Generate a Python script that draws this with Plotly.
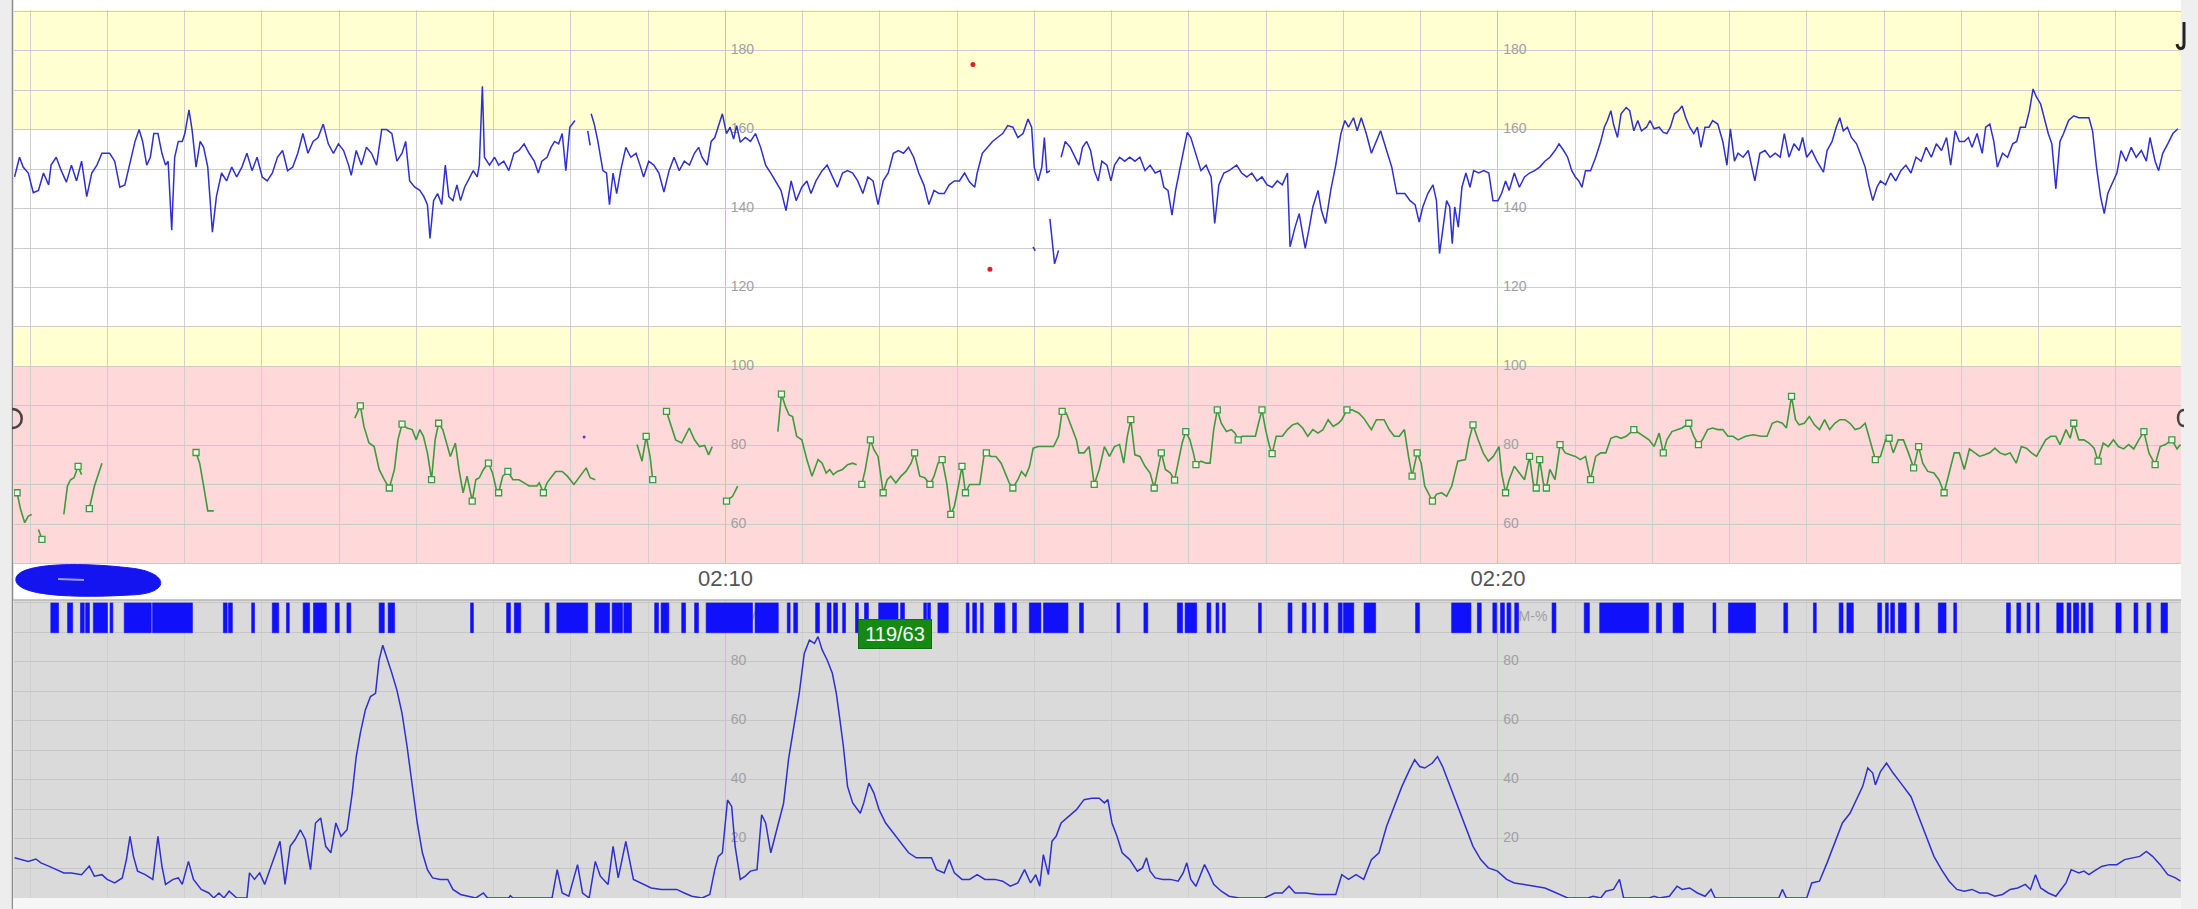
import plotly.graph_objects as go

# ---------------- DATA (time in seconds after 02:00:00) ----------------
# Fetal heart rate (bpm); None = signal loss
fhr_t = [47.8, 51.7, 54.5, 58.5, 62.4, 66.4, 70.3, 74.3, 76.2, 80.2, 84.1, 88.1, 92.0, 96.0, 99.9, 103.9,
         107.8, 111.8, 115.7, 121.7, 125.6, 129.6, 133.5, 137.5, 141.4, 144.6, 147.3, 150.5, 153.3, 156.0,
         159.2, 162.3, 165.1, 167.1, 169.9, 172.2, 175.0, 178.1, 180.1, 183.3, 185.7, 188.8, 192.0, 194.7,
         197.9, 201.5, 204.6, 208.6, 212.5, 216.5, 220.4, 224.4, 228.3, 232.3, 236.2, 240.2, 244.1, 248.1,
         252.0, 256.0, 259.9, 263.9, 267.8, 271.8, 275.7, 279.7, 283.6, 287.6, 291.5, 295.5, 299.4, 303.4,
         307.3, 309.3, 313.2, 317.2, 321.1, 325.1, 329.0, 333.0, 336.9, 340.9, 344.8, 348.8, 351.6, 354.7,
         358.7, 362.6, 365.8, 368.5, 370.5, 373.3, 376.4, 379.6, 382.4, 385.1, 388.3, 391.4, 394.2, 397.4,
         400.1, 404.1, 407.2, 408.8, 411.2, 412.8, 416.7, 420.7, 423.8, 427.8, 431.7, 435.7, 439.6, 443.6,
         447.5, 451.5, 454.6, 457.4, 461.4, 464.5, 467.3, 470.4, 473.2, 476.0, 479.1, 483.1, None,
         493.0, 494.9, None,
         495.7, 498.1, 500.9, 504.8, 507.6, 509.9, 512.7, 515.5, 518.6, 522.6, 526.5, 530.5, 533.6, 536.4,
         540.4, 544.3, 548.3, 552.2, 556.2, 560.1, 564.1, 568.0, 572.0, 575.9, 579.1, 581.8, 585.8, 588.9,
         591.7, 597.6, 600.8, 603.6, 606.3, 608.7, 611.5, 615.4, 619.4, 623.3, 627.3, 631.2, 635.2, 639.1,
         643.1, 647.0, 651.0, 654.9, 659.3, 663.2, 666.4, 670.3, 675.1, 679.0, 683.0, 686.9, 690.9, 694.8,
         698.8, 702.7, 706.7, 710.6, 714.6, 718.5, 722.5, 726.4, 730.4, 734.3, 738.3, 742.2, 746.2, 750.1,
         754.1, 758.0, 762.0, 765.9, 769.9, 773.8, 777.8, 781.7, 785.7, 789.6, 793.6, 795.5, 799.5, 803.4,
         807.4, 811.3, 815.3, 819.2, 823.2, 827.1, 831.1, 835.0, 837.8, 839.8, 842.9, 845.7, 847.7, 849.6,
         852.0, None,
         860.7, 863.9, 867.8, 871.8, 874.5, 877.3, 880.5, 883.6, 886.4, 889.5, 892.3, 896.3, 899.4, 902.2,
         906.1, 910.1, 914.0, 918.0, 921.9, 925.9, 929.8, 933.8, 937.7, 940.5, 943.7, 946.8, 949.6, 952.3,
         955.5, 958.7, 961.4, 965.4, 969.3, 973.3, 977.2, 980.0, 983.2, 987.1, 991.1, 997.0, 1000.9, 1004.9,
         1008.8, 1012.8, 1016.7, 1020.7, 1024.6, 1028.6, 1032.5, 1036.5, 1038.5, 1042.4, 1045.6, 1048.3,
         1050.3, 1053.5, 1056.2, 1060.2, 1062.9, 1066.1, 1070.1, 1074.0, 1078.0, 1081.1, 1083.9, 1087.8,
         1090.6, 1093.8, 1097.7, 1101.7, 1105.6, 1108.8, 1113.5, 1117.5, 1121.4, 1127.7, 1131.7, 1135.6,
         1138.8, 1141.6, 1145.5, 1149.5, 1152.2, 1154.6, 1157.4, 1160.1, 1162.5, 1164.5, 1166.4, 1169.2,
         1172.0, 1175.1, 1178.3, 1181.1, 1185.0, 1189.0, 1192.9, 1196.1, 1200.0, 1202.8, 1205.9, 1208.7,
         1212.7, 1216.6, 1220.6, 1224.5, 1228.5, 1232.4, 1236.4, 1240.3, 1244.3, 1247.4, 1251.0, 1254.1,
         1257.3, 1260.1, 1262.8, 1265.2, 1268.0, 1271.9, 1275.9, 1279.8, 1282.6, 1285.0, 1287.7, 1289.7,
         1292.8, 1295.6, 1299.6, 1302.3, 1305.5, 1308.6, 1311.4, 1315.4, 1318.1, 1321.3, 1325.2, 1328.4,
         1331.2, 1333.9, 1337.1, 1340.2, 1343.0, 1345.8, 1348.9, 1352.1, 1354.9, 1357.6, 1360.8, 1363.9,
         1366.7, 1370.7, 1374.6, 1377.8, 1380.5, 1383.7, 1386.5, 1390.4, 1394.4, 1399.5, 1403.4, 1407.4,
         1411.3, 1415.3, 1419.2, 1422.4, 1426.0, 1429.9, 1433.9, 1436.6, 1439.8, 1443.7, 1447.7, 1452.8,
         1455.6, 1459.5, 1462.7, 1465.5, 1468.2, 1471.4, 1474.5, 1478.5, 1481.3, 1485.2, 1488.0, 1491.1,
         1494.3, 1497.1, 1501.0, 1505.0, 1508.9, 1512.9, 1516.8, 1520.8, 1524.7, 1528.7, 1532.6, 1536.6,
         1540.5, 1544.5, 1548.4, 1551.6, 1555.1, 1558.3, 1562.2, 1565.4, 1568.2, 1572.1, 1576.1, 1578.8,
         1582.0, 1585.1, 1587.9, 1591.9, 1595.8, 1599.8, 1602.9, 1605.7, 1609.6, 1612.8, 1615.6, 1618.3,
         1621.5, 1624.6, 1627.4, 1630.2, 1633.3, 1636.5, 1639.3, 1643.2, 1647.2, 1651.1, 1655.1, 1659.0,
         1661.8, 1664.9, 1668.1, 1670.9, 1673.6, 1676.8, 1680.7, 1683.9, 1687.8, 1691.8, 1695.7, 1699.7,
         1703.6, 1706.4, 1710.4, 1713.1, 1716.3, 1720.2, 1724.2, 1728.1, None,
         838.9, 840.6, None, 852.0, 853.6, 855.6, 858.7]
fhr_v = [148, 153, 150.5, 149, 144, 144.6, 149, 146, 151, 153, 149.6, 146.7, 151, 147, 152, 143,
         149, 151, 154, 154, 152, 145.4, 146, 152, 157, 160, 157, 151, 153, 159,
         159, 154, 151, 152, 134.5, 153, 157, 157, 159, 165, 160, 150.5, 157, 155.5,
         150.5, 134, 143, 149, 147, 150.5, 148, 150.5, 154, 149.6, 153, 148, 147, 149,
         153, 154.7, 149.6, 150.5, 154, 159, 154, 157, 158, 161.4, 156.4, 154, 156.4, 154.7,
         151, 148.4, 154.7, 151, 155.5, 154, 151, 160, 160, 159, 152, 154, 157, 147,
         145.4, 144.6, 143, 141, 132.4, 142, 143.8, 141, 151, 143, 142, 146, 142, 145.4,
         147, 149.6, 148, 151, 171, 153, 151, 153, 151, 152, 149.6, 154, 154.7, 156.4,
         154, 152, 149, 152, 153, 155.5, 157, 156.4, 159, 149.6, 160.6, 162.3, None,
         159.7, 156, None,
         164, 161.4, 157, 149.6, 149, 141, 149, 143.8, 149.6, 155.5, 153, 154, 151, 148,
         152, 151, 149, 144.2, 149.6, 153, 149.6, 152, 151, 154, 155.5, 153, 151, 157,
         158, 164, 159, 160.6, 157.6, 161, 156.8, 158, 157, 159, 155.5, 151, 149, 147,
         144.6, 139.5, 147, 142, 145.4, 147, 143.8, 147, 149.6, 151, 148, 145.4, 149, 149.6,
         149, 147, 143.8, 148, 147, 141, 147, 149, 154, 154.7, 154, 155.5, 153, 149,
         146, 141, 144.6, 143.8, 143.8, 146, 147, 147, 149, 146.7, 145.4, 149, 154, 155.5,
         157, 158, 159, 161, 160.6, 158, 159, 162.7, 160.6, 150.5, 147, 150.5, 158, 149,
         149.6, None,
         153, 157, 155.5, 153, 151, 155.5, 157, 154.7, 149.6, 147, 152, 151, 147, 151,
         153, 152, 153, 152, 153, 149.6, 151, 149, 149.6, 145.4, 144.6, 138.3, 144.6, 149,
         154, 159.3, 158, 154, 149.6, 151, 148, 136.2, 146, 149, 149.6, 151, 149, 148,
         149, 147, 148, 146, 145.4, 147, 146, 149, 130.3, 135.3, 138.7, 133.6,
         129.9, 135.3, 140.4, 144.6, 139.5, 136.2, 144.6, 151, 159, 162.3, 160.6, 163,
         159.7, 163, 159, 154, 157, 159.7, 154.7, 150.5, 143.8, 143.8, 142, 141,
         136.6, 140.4, 143.8, 146, 142, 128.6, 135.3, 142, 140.4, 131.1, 140.4, 135.3,
         145.4, 149, 145.4, 149.6, 149, 149.6, 149, 142, 142, 143.8, 147, 144.6,
         149, 145.4, 148, 149, 149.6, 150.5, 152, 153, 154.7, 156.4, 154.7, 153,
         149.6, 148, 147, 145.4, 149.6, 149.6, 153, 157, 160.6, 162.3, 164.8, 161.4,
         158, 164, 165.6, 164.8, 159.7, 162.3, 159.7, 160.6, 162.3, 160.2, 160.6, 159.3,
         159, 160.6, 164, 164.8, 166, 163, 160.6, 159, 160.6, 155.5, 160.6, 160.6,
         162.3, 161.4, 157, 151, 160.2, 152, 154, 153, 154.7, 147, 154, 154.7,
         153, 154, 153, 159, 153, 156.4, 154.7, 158, 153, 154.7, 152, 149.2,
         154.7, 157, 160.6, 163, 159.7, 160.6, 158, 156.4, 154, 150.5, 146, 142,
         145.4, 147, 146, 149, 147, 149.6, 151, 149, 153, 152, 155.5, 153,
         156.4, 154.7, 158, 151, 159.7, 157, 157, 158, 155.5, 159, 154, 160.6,
         161.4, 157, 150.5, 154, 153, 156.4, 157, 160.6, 160.6, 164.8, 170.3, 168.2,
         166.5, 162.3, 159, 156.4, 145, 157, 159, 162.3, 163.5, 163, 163, 163,
         159.7, 150.5, 142.9, 138.7, 143.8, 146, 149, 154.7, 152, 155.5, 153, 154.7,
         152, 158, 152, 149.6, 154, 156.4, 159, 160.2, None,
         130.3, 129.3, None, 137.4, 132, 126, 129.4]

# Isolated fetal heart rate dots (red)
fhr_dot_t = [792.2, 805.4]
fhr_dot_v = [176.5, 124.6]

# Maternal heart rate (bpm)
mhr_t = [49.8, 52.5, 55.7, 58.5, 61.2, None, 66.4, 69.1, None,
         86.1, 88.9, 91.3, 94.0, 97.2, 99.9, None, 105.9, 109.9, 115.7, None,
         188.8, 191.6, 194.7, 197.9, 202.6, None,
         312.1, 316.4, 319.2, 323.1, 327.1, 331.0, 335.0, 338.9, 342.9, 345.6, 348.8, 352.7, 356.7, 359.8,
         362.6, 365.4, 368.5, 371.7, 374.5, 377.2, 380.4, 383.5, 386.3, 390.2, 393.0, 396.2, 399.3, 403.3,
         406.1, 408.8, 412.0, 415.9, 419.1, 421.9, 423.8, 427.0, 431.0, 434.9, 439.6, 443.6, 447.5, 453.5,
         455.4, 458.6, 461.4, 465.3, 468.1, 473.2, 477.2, 482.3, 487.0, 491.8, 494.9, 498.9, None,
         531.3, 535.2, 538.4, 541.5, 543.5, None,
         554.2, 558.1, 561.3, 566.0, 571.9, 575.9, 579.8, 583.8, 586.9, 589.7, None,
         600.8, 605.5, 609.5, None,
         640.7, 643.5, 646.6, 649.4, 652.1, 655.3, 659.3, 663.2, 667.2, 671.9, 675.1, 678.2, 681.0, 683.7,
         686.9, 690.9, 694.8, 698.8, 701.9, None,
         705.9, 708.6, 712.6, 715.3, 718.5, 722.5, 725.6, 728.4, 732.3, 736.3, 740.2, 744.2, 746.9, 750.9,
         754.8, 758.8, 762.0, 765.1, 768.3, 771.8, 775.0, 777.8, 780.9, 783.7, 786.4, 789.6, 793.6, 797.5,
         800.7, 802.6, 806.2, 810.1, 814.1, 817.2, 820.4, 823.2, 827.1, 829.9, 833.1, 836.2, 839.0, 842.9,
         848.8, 854.8, 858.7, 861.5, 864.7, 868.6, 872.6, 874.5, 878.5, 882.4, 886.4, 890.3, 894.3, 898.2,
         902.2, 906.1, 909.3, 912.1, 914.8, 918.0, 921.9, 925.9, 929.8, 933.0, 935.8, 938.5, 941.7, 945.6,
         948.8, 951.6, 954.7, 957.5, 960.7, 963.4, 965.4, 969.3, 973.3, 976.4, 979.2, 982.0, 985.1, 989.1,
         993.0, 995.8, 998.2, 1001.3, 1006.1, 1011.6, 1014.0, 1016.7, 1019.5, 1022.6, 1024.6, 1027.8,
         1032.5, 1036.5, 1040.4, 1044.4, 1048.3, 1052.3, 1056.2, 1060.2, 1064.1, 1068.1, 1072.0, 1076.0,
         1078.7, 1082.7, 1086.6, 1091.8, 1095.7, 1098.5, 1101.7, 1105.6, 1111.5, 1115.5, 1119.4, 1123.4,
         1127.3, 1130.5, 1133.3, 1137.2, 1140.4, 1143.1, 1145.9, 1149.1, 1152.2, 1156.2, 1160.1, 1164.1,
         1168.8, 1174.7, 1177.5, 1180.6, 1184.6, 1188.5, 1192.5, 1196.4, 1200.8, 1202.8, 1205.9, 1208.7,
         1212.7, 1216.6, 1220.6, 1224.5, 1227.3, 1229.7, 1232.4, 1235.2, 1237.6, 1240.3, 1244.3, 1248.2,
         1252.2, 1256.1, 1260.1, 1264.0, 1268.0, 1271.9, 1275.9, 1279.8, 1283.8, 1287.7, 1291.7, 1295.6,
         1299.6, 1305.5, 1309.4, 1313.4, 1317.3, 1321.3, 1325.2, 1328.4, 1331.2, 1335.1, 1339.1, 1343.0,
         1348.2, 1352.1, 1355.7, 1358.8, 1362.8, 1366.7, 1370.7, 1374.6, 1378.6, 1382.5, 1386.5, 1392.4,
         1398.3, 1404.3, 1409.0, 1413.0, 1416.9, 1420.9, 1424.0, 1428.0, 1431.1, 1433.9, 1437.9, 1441.8,
         1445.8, 1449.7, 1453.7, 1457.6, 1461.6, 1465.5, 1469.5, 1473.4, 1477.4, 1481.3, 1485.2, 1489.2,
         1493.1, 1497.1, 1501.0, 1503.8, 1507.0, 1510.9, 1514.9, 1518.8, 1522.8, 1526.7, 1529.9, 1533.8,
         1538.6, 1542.5, 1546.5, 1550.4, 1554.4, 1558.3, 1562.2, 1566.2, 1570.1, 1574.1, 1578.0, 1582.0,
         1585.9, 1589.9, 1593.8, 1597.8, 1602.5, 1606.5, 1610.4, 1614.4, 1618.3, 1621.5, 1625.4, 1629.4,
         1633.3, 1636.5, 1641.2, 1644.4, 1647.2, 1651.1, 1655.1, 1659.0, 1663.0, 1666.1, 1670.1, 1674.0,
         1678.0, 1681.9, 1685.9, 1689.8, 1693.8, 1697.7, 1701.7, 1705.6, 1710.4, 1714.3, 1718.3, 1723.4,
         1727.4, 1730.1]
mhr_v = [68, 63.8, 60.4, 62.1, 62.5, None, 58.7, 56.2, None,
         62.5, 69.7, 71.3, 71.8, 74.7, 72.6, None, 64, 69.7, 75.5, None,
         78.2, 75.5, 69.7, 63.4, 63.4, None,
         86.9, 90, 84.8, 80.6, 79.7, 73.9, 71.3, 69.2, 73.9, 81.4, 85.4, 84.4, 84, 81.4,
         84, 82.3, 78.1, 71.3, 81.4, 85.6, 84, 80.6, 77.2, 80.6, 73.9, 68, 72.2, 65.9,
         71.3, 71.8, 73.9, 75.5, 73, 69, 68, 72.2, 73.4, 71.3, 71.3, 70.5, 69.7, 69.7,
         70.5, 68, 70.5, 72.2, 73.4, 73.4, 72.2, 70.1, 72.2, 74.3, 71.8, 71.3, None,
         80.2, 76, 82.3, 77, 71.3, None,
         88.6, 84.8, 81.4, 80.6, 84.4, 81.4, 79.7, 80, 77.6, 79.7, None,
         65.9, 67.1, 69.7, None,
         83.5, 93, 89.8, 87.7, 87.3, 82.3, 81.4, 76.4, 72.2, 76.4, 75.5, 73, 73.9, 72.6,
         73.4, 73.9, 75.1, 75.5, 75.1, None,
         70.1, 73.9, 81.4, 78.9, 77.2, 68, 71.3, 72.2, 70.5, 72.2, 73.4, 75.5, 78.1, 72.2,
         71.8, 70.1, 72.2, 75.5, 76.4, 70.5, 62.5, 64.6, 69.7, 74.7, 68, 70.1, 70.1, 70.1,
         77.2, 78.1, 77.2, 77.2, 75.5, 73, 70.5, 69.2, 71.3, 73.4, 72.2, 74.7, 79.3, 79.7,
         79.7, 79.7, 82.3, 88.6, 88.2, 84.8, 81.4, 78.1, 78.1, 79.7, 70.1, 73.9, 79.7, 77.2,
         79.7, 80.2, 75.5, 82.3, 86.5, 77.6, 77.2, 74.7, 73, 69.2, 73.9, 78.1, 73.9, 73,
         71.2, 75.5, 80.6, 83.5, 81.4, 78.1, 75.1, 76, 75.5, 75.5, 84, 89, 85.6, 83.5,
         84, 83.1, 81.4, 82.3, 82.3, 82.3, 85.6, 89, 84, 79.7, 77.9, 82.3,
         82.3, 84, 85.2, 85.6, 84.4, 82.3, 84, 83.1, 84, 86.5, 84.8, 85.6,
         86.5, 89, 89, 88.2, 86.9, 85.6, 84, 86.5, 86.5, 84, 82.3, 82.3,
         84, 77.2, 72.2, 78.1, 75.5, 69.7, 68, 65.9, 67.6, 68, 67.1, 69.7,
         76, 76.4, 81.4, 85.2, 81.4, 78.1, 76, 77.2, 79.7, 73, 68, 71.3,
         74.7, 73, 71.3, 77.2, 70.5, 69.2, 76.4, 70.5, 69.2, 73.9, 71.3, 80.2,
         78.1, 77.6, 77.2, 76.4, 77.2, 71.3, 77.2, 78.1, 78.1, 81.8, 82.3, 81.8,
         82.3, 84, 83.1, 82.3, 81.4, 79.7, 83.1, 78.1, 81.4, 83.5, 84, 84.4,
         85.6, 82.3, 80.2, 81.4, 84, 84.4, 84, 84, 82.3, 82.3, 81.4, 82.3,
         82.7, 82.3, 82.3, 85.6, 86.1, 85.6, 84.4, 92.4, 86.5, 85.2, 85.6, 87.3,
         85.2, 84, 86.5, 84, 85.6, 86.5, 86.5, 85.6, 84, 84.4, 85.6, 80.6,
         76.4, 77.2, 81.4, 81.8, 78.1, 81.4, 81.4, 78.1, 74.3, 79.7, 75.5, 73.4,
         73, 71.3, 68, 73, 78.1, 78.1, 73.9, 79.1, 78.1, 77.2, 77.6, 78.1,
         79.3, 78.1, 77.6, 78.1, 75.5, 79.7, 79.3, 78.1, 77.2, 79.1, 81.4, 82.3,
         82.3, 80.2, 84, 81.8, 85.6, 81.4, 81.4, 80.6, 79.3, 76, 80.6, 79.7,
         81.4, 79.7, 79.1, 80.2, 79.1, 81.4, 83.5, 78.1, 75.1, 79.7, 80.2, 81.4,
         79.1, 80.2]
# Samples of the maternal trace that carry a square marker
mhr_mark_t = [49.8, 69.1, 97.2, 105.9, 188.8, 316.4, 338.9, 348.8, 371.7, 377.2, 403.3, 415.9, 423.8,
              431.0, 458.6, 538.4, 543.5, 554.2, 600.8, 643.5, 705.9, 712.6, 722.5, 746.9, 758.8, 768.3,
              775.0, 783.7, 786.4, 802.6, 823.2, 861.5, 886.4, 914.8, 933.0, 938.5, 948.8, 957.5, 965.4,
              982.0, 998.2, 1016.7, 1024.6, 1082.7, 1133.3, 1137.2, 1149.1, 1180.6, 1205.9, 1224.5,
              1229.7, 1232.4, 1237.6, 1248.2, 1271.9, 1305.5, 1328.4, 1348.2, 1355.7, 1428.0, 1493.1,
              1503.8, 1522.8, 1526.7, 1546.5, 1647.2, 1666.1, 1701.7, 1710.4, 1723.4]
mhr_dot_t = [490.2]
mhr_dot_v = [82.1]

# Uterine activity / toco (%)
toco_t = [47.8, 52.5, 58.5, 64.4, 68.3, 74.3, 80.2, 86.1, 92.0, 99.9, 105.9, 109.8, 115.7, 119.7, 125.6,
          131.5, 134.7, 137.5, 140.2, 143.4, 149.3, 155.2, 159.2, 162.3, 165.1, 171.0, 175.0, 178.1, 182.9,
          186.8, 192.8, 198.7, 202.6, 206.6, 210.5, 214.5, 220.4, 228.3, 230.3, 234.2, 238.2, 242.1, 246.1,
          250.0, 254.0, 257.9, 261.9, 265.8, 269.8, 273.7, 277.7, 281.6, 285.6, 289.5, 293.5, 297.4, 301.4,
          306.1, 310.1, 313.2, 316.4, 320.3, 324.3, 328.2, 331.0, 333.8, 336.9, 340.9, 344.8, 348.8, 352.7,
          356.7, 360.6, 364.6, 368.5, 372.5, 378.4, 384.3, 388.3, 394.2, 400.1, 406.1, 412.0, 415.2, 431.7,
          432.9, 434.9, 465.3, 469.3, 473.2, 478.3, 485.1, 489.0, 494.1, 498.9, 502.8, 508.8, 512.7, 516.7,
          522.6, 528.5, 534.4, 542.3, 550.2, 562.1, 568.0, 573.9, 581.8, 587.8, 591.7, 594.5, 597.6, 601.6,
          604.8, 607.5, 611.5, 615.4, 619.4, 624.5, 628.1, 631.2, 635.2, 639.1, 645.1, 649.0, 653.3, 657.3,
          661.2, 665.2, 669.1, 671.9, 675.1, 679.0, 683.0, 686.1, 688.9, 691.6, 694.8, 698.8, 704.7, 707.4,
          711.4, 715.3, 719.3, 724.4, 730.4, 736.3, 742.2, 748.2, 754.1, 760.0, 763.9, 769.9, 773.8, 777.8,
          783.7, 789.6, 795.5, 801.5, 809.3, 815.3, 821.2, 827.1, 832.3, 837.0, 841.0, 844.1, 846.9, 850.8,
          853.6, 856.8, 860.7, 866.6, 872.6, 878.5, 884.4, 890.3, 894.3, 897.0, 900.2, 904.1, 908.1, 914.0,
          919.9, 923.9, 927.0, 929.8, 933.8, 939.7, 945.6, 951.6, 955.5, 958.3, 961.4, 965.4, 969.3, 972.1,
          975.3, 979.2, 985.1, 991.1, 999.0, 1010.8, 1018.7, 1026.6, 1032.5, 1037.7, 1042.4, 1050.3, 1060.2,
          1068.1, 1074.0, 1078.7, 1083.9, 1089.8, 1095.7, 1101.7, 1107.6, 1113.5, 1119.4, 1125.4, 1131.3,
          1135.3, 1139.2, 1143.1, 1149.1, 1153.0, 1157.0, 1162.9, 1168.8, 1174.7, 1180.6, 1186.6, 1192.5,
          1199.6, 1206.7, 1212.7, 1220.6, 1228.5, 1236.4, 1242.3, 1248.2, 1254.1, 1269.9, 1273.9, 1279.8,
          1283.8, 1289.7, 1294.4, 1297.6, 1317.3, 1321.3, 1325.2, 1333.1, 1339.1, 1343.0, 1348.9, 1354.9,
          1360.8, 1365.5, 1368.7, 1418.1, 1420.9, 1424.0, 1439.8, 1443.7, 1449.7, 1455.6, 1461.6, 1467.5,
          1473.4, 1479.3, 1483.3, 1487.2, 1491.1, 1493.1, 1497.1, 1501.8, 1506.9, 1512.9, 1516.8, 1520.8,
          1526.7, 1532.6, 1538.6, 1544.5, 1550.4, 1556.4, 1562.2, 1568.2, 1574.1, 1580.0, 1585.9, 1591.9,
          1597.8, 1603.7, 1609.6, 1613.6, 1617.5, 1621.5, 1627.4, 1633.3, 1637.3, 1641.2, 1645.2, 1651.1,
          1655.1, 1659.0, 1663.0, 1668.9, 1674.8, 1680.7, 1686.7, 1692.6, 1698.5, 1703.6, 1708.4, 1714.3,
          1720.2, 1726.2, 1730.1]
toco_v = [13.6, 13, 12.4, 13.2, 11.9, 10.8, 9.6, 8.5, 8.5, 7.9, 10.8, 7.4, 7.9, 6.3, 5.1,
          6.8, 13, 20.9, 14.1, 9.1, 7.9, 6.3, 20.9, 10.8, 4.6, 6.3, 6.8, 4.6, 12.4,
          6.3, 2.9, 1.7, 0, 1.7, 0, 2.3, 0, 0, 8.5, 6.3, 8.5, 4.6, 9.6,
          14.1, 19.2, 4.6, 17.5, 19.8, 23.1, 19.8, 9.6, 25.4, 27.1, 17.5, 15.3, 25.4, 20.9,
          23.1, 35.5, 47.9, 55.8, 63.7, 68.2, 69.3, 80.6, 85.6, 81.6, 76.1, 70.4, 62.5, 51.3,
          37.8, 25.4, 15.3, 9.6, 6.8, 6.3, 6.3, 2.9, 1.2, 0.6, 0, 1.7, 0, 0,
          0.8, 0, 0, 9.6, 1.7, 0.6, 11.3, 1.7, 0, 12.4, 7.4, 4.6, 17.5, 6.8,
          19.2, 6.3, 5.1, 3.4, 2.9, 2.9, 1.7, 0.6, 0, 1.2, 9.6, 14.1, 15.3, 33.2,
          31, 17.5, 6.3, 7.4, 9.1, 9.6, 28.2, 25.4, 15.3, 22, 32, 47, 58, 69.3,
          82.8, 87.3, 86.2, 88.5, 84, 80.6, 76.1, 69.3, 60.3, 51.3, 37.8, 32.2, 28.7, 32.2,
          38.9, 35.5, 29.9, 25.4, 22, 18.6, 15.3, 13.6, 13.6, 13.6, 9.6, 8.5, 13, 8.5,
          6.3, 6.3, 7.9, 6.3, 6.3, 5.7, 4, 5.1, 9.6, 5.1, 7.9, 4, 14.7, 7.9,
          19.2, 20.9, 25.4, 27.6, 29.9, 33.3, 33.8, 33.8, 32.2, 33.3, 25.4, 20.9, 15.3, 13,
          9.1, 10.2, 13.6, 9.1, 6.8, 6.3, 6.3, 5.7, 8.5, 11.9, 6.3, 4, 8.5, 11.3,
          8.5, 4.6, 2.3, 0.6, 0, 0, 0, 1.7, 1.7, 4, 1.7, 1.7, 1.2,
          1.2, 1.2, 7.9, 6.3, 7.9, 6.3, 13, 15.3, 24.3, 31, 37.8, 43.4,
          46.8, 44.5, 44, 45.7, 47.9, 44.5, 37.8, 31, 24.3, 17.5, 13, 10.2,
          9.1, 6.3, 5.1, 4.6, 4, 3.4, 2.3, 1.2, 0, 0, 0.6, 0,
          2.3, 2.9, 6.3, 0, 0, 0.6, 0, 0.6, 4, 2.9, 3.4, 1.7,
          0.6, 2.9, 0, 0, 2.9, 0, 0, 5.1, 5.7, 11.9, 18.6, 25.4,
          28.7, 34.3, 37.8, 44, 42.3, 38.3, 42.8, 45.7, 42.3, 38.9, 36.7, 34.3,
          27.6, 20.9, 14.1, 9.6, 5.7, 2.9, 2.3, 2.9, 1.7, 1.7, 0.6, 1.2,
          2.9, 3.4, 4.6, 2.9, 7.9, 3.4, 1.7, 0.6, 2.9, 5.1, 9.6, 8.5,
          9.1, 7.9, 9.1, 10.7, 11.3, 11.3, 13, 13.6, 14.1, 15.8, 14.1, 11.3,
          7.9, 6.8, 5.7]

# Fetal movement marks (start, end in seconds)
mov_start = [76, 89, 99, 103, 109, 122, 133, 155, 210, 214, 232, 248, 259, 272, 280, 297, 306, 331, 338,
             402, 430, 436, 460, 469, 499, 512, 521, 545, 550, 566, 576, 585, 623, 648, 653, 670, 679, 684,
             691, 701, 708, 719, 736, 754, 757, 765, 787, 792, 798, 809, 823, 836, 847, 875, 904, 925, 951,
             957, 974, 981, 986, 1014, 1037, 1048, 1056, 1065, 1076, 1080, 1096, 1136, 1164, 1184, 1196,
             1202, 1207, 1213, 1242, 1267, 1279, 1323, 1336, 1367, 1379, 1422, 1445, 1465, 1471, 1495,
             1501, 1505, 1511, 1524, 1542, 1554, 1595, 1603, 1611, 1618, 1634, 1642, 1647, 1653, 1659,
             1680, 1694, 1704, 1715]
mov_end = [82, 93, 102, 106, 120, 124, 154, 186, 213, 217, 234, 253, 261, 277, 290, 300, 309, 335, 343,
           404, 433, 441, 463, 493, 510, 520, 527, 548, 556, 569, 579, 621, 641, 650, 656, 673, 682, 687,
           693, 703, 711, 734, 739, 756, 759, 773, 789, 795, 800, 817, 826, 845, 866, 878, 906, 928, 955,
           966, 977, 983, 988, 1016, 1040, 1051, 1058, 1068, 1079, 1088, 1105, 1139, 1179, 1187, 1199,
           1205, 1210, 1216, 1245, 1271, 1317, 1327, 1344, 1369, 1400, 1425, 1447, 1468, 1476, 1498,
           1503, 1508, 1517, 1527, 1548, 1556, 1598, 1606, 1613, 1620, 1639, 1645, 1651, 1656, 1662,
           1684, 1697, 1707, 1720]
mov_low, mov_high = 89.8, 99.9

# Blood pressure reading
bp_t = 731.3
bp_text = "119/63"

# Axis ticks / labels
time_tick_vals = [600, 1200]
time_tick_text = ["02:10", "02:20"]
fhr_label_vals = [180, 160, 140, 120, 100, 80, 60]
toco_label_vals = [80, 60, 40, 20]
toco_unit = "M-%"
# FHR background zones (low, high, colour-name)
fhr_zones = [(160, 190.3, "warn"), (100, 110, "warn"), (50.2, 100, "alarm")]

# ---------------- STYLE ----------------
W, H = 2198, 909
ML, MR, MT, MB = 14, 17, 10, 11
PW, PH = W - ML - MR, H - MT - MB
FONT = "Arial, 'Liberation Sans', sans-serif"
BLUE_LINE = "#2f2fd2"
GREEN_LINE = "#3d9a3d"
ZONE_COL = {"warn": "#ffffd2", "alarm": "#ffd9d9"}
TOP_PX = (10, 563)      # pixel rows of the FHR panel
BOT_PX = (600, 898)     # pixel rows of the toco panel
LABEL_DX = 4            # seconds: small gap between 10-min line and its scale labels


def dom(px):
    return [(H - MB - px[1]) / PH, (H - MB - px[0]) / PH]


def ppx(x):
    return (x - ML) / PW


def ppy(y):
    return (H - MB - y) / PH


fig = go.Figure()

# y-axis labels placed next to the 10-minute lines (drawn first so traces sit on top)
lab_x, lab_y, lab_t = [], [], []
for tv in time_tick_vals:
    for v in fhr_label_vals:
        lab_x.append(tv + LABEL_DX); lab_y.append(v); lab_t.append(str(v))
fig.add_trace(go.Scatter(x=lab_x, y=lab_y, text=lab_t, mode="text", textposition="middle right",
                         textfont=dict(size=14, color="#a0a0a0", family=FONT), xaxis="x", yaxis="y",
                         hoverinfo="skip", showlegend=False))
lab_x, lab_y, lab_t = [], [], []
for tv in time_tick_vals:
    for v in toco_label_vals:
        lab_x.append(tv + LABEL_DX); lab_y.append(v); lab_t.append(str(v))
    lab_x.append(tv + 16); lab_y.append(95); lab_t.append(toco_unit)
fig.add_trace(go.Scatter(x=lab_x, y=lab_y, text=lab_t, mode="text", textposition="middle right",
                         textfont=dict(size=14, color="#a0a0a0", family=FONT), xaxis="x2", yaxis="y2",
                         hoverinfo="skip", showlegend=False))

# fetal movement bars (filled rectangles, drawn above the unit label)
bx, by = [], []
for s, e in zip(mov_start, mov_end):
    e = max(e, s + 2.2)
    bx += [s, s, e, e, s, None]
    by += [mov_low, mov_high, mov_high, mov_low, mov_low, None]
fig.add_trace(go.Scatter(x=bx, y=by, mode="lines", fill="toself", fillcolor="#1010fa",
                         line=dict(width=0.6, color="#1010fa"), xaxis="x2", yaxis="y2",
                         showlegend=False, hoverinfo="skip"))

# maternal HR
fig.add_trace(go.Scatter(x=mhr_t, y=mhr_v, mode="lines", line=dict(color=GREEN_LINE, width=1.6),
                         connectgaps=False, xaxis="x", yaxis="y", showlegend=False, hoverinfo="skip"))
mark_set = set(mhr_mark_t)
mk_x = [t for t in mhr_t if t is not None and t in mark_set]
mk_y = [v for t, v in zip(mhr_t, mhr_v) if t is not None and t in mark_set]
fig.add_trace(go.Scatter(x=mk_x, y=mk_y, mode="markers",
                         marker=dict(symbol="square", size=6, color="#eefbee",
                                     line=dict(color=GREEN_LINE, width=1.3)),
                         xaxis="x", yaxis="y", showlegend=False, hoverinfo="skip"))
fig.add_trace(go.Scatter(x=mhr_dot_t, y=mhr_dot_v, mode="markers", marker=dict(size=3, color="#5a3ccc"),
                         xaxis="x", yaxis="y", showlegend=False, hoverinfo="skip"))

# FHR
fig.add_trace(go.Scatter(x=fhr_t, y=fhr_v, mode="lines", line=dict(color=BLUE_LINE, width=1.5),
                         connectgaps=False, xaxis="x", yaxis="y", showlegend=False, hoverinfo="skip"))
fig.add_trace(go.Scatter(x=fhr_dot_t, y=fhr_dot_v, mode="markers", marker=dict(size=5, color="#e02020"),
                         xaxis="x", yaxis="y", showlegend=False, hoverinfo="skip"))

# toco
fig.add_trace(go.Scatter(x=toco_t, y=toco_v, mode="lines", line=dict(color=BLUE_LINE, width=1.5),
                         xaxis="x2", yaxis="y2", showlegend=False, hoverinfo="skip"))

shapes = []
for lo, hi, kind in fhr_zones:
    shapes.append(dict(type="rect", xref="x domain", x0=0, x1=1, yref="y", y0=lo, y1=hi,
                       fillcolor=ZONE_COL[kind], line=dict(width=0), layer="below"))
shapes.append(dict(type="rect", xref="x2 domain", x0=0, x1=1, yref="y2 domain", y0=0, y1=1,
                   fillcolor="#dadada", line=dict(width=0), layer="below"))
# frame pieces outside the plotting area
shapes.append(dict(type="rect", xref="paper", yref="paper", x0=ppx(0), x1=ppx(12), y0=ppy(H), y1=ppy(0),
                   fillcolor="#ededed", line=dict(width=0), layer="above"))
shapes.append(dict(type="line", xref="paper", yref="paper", x0=ppx(12.5), x1=ppx(12.5), y0=ppy(H), y1=ppy(0),
                   line=dict(color="#8c8c8c", width=1.5), layer="above"))
shapes.append(dict(type="rect", xref="paper", yref="paper", x0=ppx(2181), x1=ppx(W), y0=ppy(H), y1=ppy(0),
                   fillcolor="#efefef", line=dict(width=0), layer="above"))
shapes.append(dict(type="rect", xref="paper", yref="paper", x0=ppx(13), x1=ppx(2181), y0=ppy(H), y1=ppy(898),
                   fillcolor="#f6f6f6", line=dict(width=0), layer="above"))
shapes.append(dict(type="line", xref="paper", yref="paper", x0=ppx(13), x1=ppx(2181), y0=ppy(600), y1=ppy(600),
                   line=dict(color="#b4b4b4", width=1.5), layer="above"))
shapes.append(dict(type="line", xref="paper", yref="paper", x0=ppx(13), x1=ppx(2181), y0=ppy(563.5), y1=ppy(563.5),
                   line=dict(color="#d4c4c4", width=1), layer="above"))
# redaction scribble
shapes.append(dict(type="path", xref="paper", yref="paper",
                   path=(f"M {ppx(16)},{ppy(578)} C {ppx(20)},{ppy(563)} {ppx(80)},{ppy(562)} {ppx(130)},{ppy(568)} "
                         f"C {ppx(170)},{ppy(572)} {ppx(172)},{ppy(594)} {ppx(130)},{ppy(595)} "
                         f"C {ppx(80)},{ppy(598)} {ppx(12)},{ppy(597)} {ppx(16)},{ppy(578)} Z"),
                   fillcolor="#1414f0", line=dict(color="#1414f0", width=1), layer="above"))
shapes.append(dict(type="line", xref="paper", yref="paper", x0=ppx(58), x1=ppx(84), y0=ppy(579), y1=ppy(580),
                   line=dict(color="#9a9aff", width=2), layer="above"))
# partially visible UI handles at the edges
shapes.append(dict(type="path", xref="paper", yref="paper",
                   path=f"M {ppx(12)},{ppy(409)} C {ppx(25)},{ppy(409)} {ppx(25)},{ppy(428)} {ppx(12)},{ppy(428)}",
                   line=dict(color="#444444", width=2.5), layer="above"))
shapes.append(dict(type="path", xref="paper", yref="paper",
                   path=f"M {ppx(2184)},{ppy(410)} C {ppx(2176)},{ppy(410)} {ppx(2176)},{ppy(426)} {ppx(2184)},{ppy(426)}",
                   line=dict(color="#444444", width=2.5), layer="above"))
shapes.append(dict(type="path", xref="paper", yref="paper",
                   path=f"M {ppx(2184)},{ppy(22)} L {ppx(2184)},{ppy(44)} C {ppx(2184)},{ppy(50)} {ppx(2178)},{ppy(50)} {ppx(2177)},{ppy(44)}",
                   line=dict(color="#222222", width=3), layer="above"))

minor_vals = list(range(60, 1740, 60))
grid_major = "#a6d8a0"
xcommon = dict(range=[47.4, 1730.5], tickmode="array", tickvals=time_tick_vals, showgrid=True,
               gridcolor=grid_major, gridwidth=1.4, zeroline=False, showline=False, ticks="",
               minor=dict(tickmode="array", tickvals=minor_vals, showgrid=True, gridcolor="#cfcfcf", gridwidth=1),
               fixedrange=True)

fig.update_layout(
    width=W, height=H,
    margin=dict(l=ML, r=MR, t=MT, b=MB, pad=0),
    paper_bgcolor="white", plot_bgcolor="white",
    font=dict(family=FONT),
    xaxis=dict(domain=[0, 1], anchor="y", ticktext=time_tick_text, showticklabels=True,
               tickfont=dict(size=22, color="#555555", family=FONT), **xcommon),
    yaxis=dict(domain=dom(TOP_PX), range=[50.2, 190.3], tickmode="linear", tick0=0, dtick=10,
               showgrid=True, gridcolor="#cbcbcb", gridwidth=1.3, showticklabels=False, zeroline=False,
               showline=False, fixedrange=True),
    xaxis2=dict(domain=[0, 1], anchor="y2", matches="x", showticklabels=False, **xcommon),
    yaxis2=dict(domain=dom(BOT_PX), range=[0, 100.9], tickmode="linear", tick0=0, dtick=10,
                showgrid=True, gridcolor="#c6c6c6", gridwidth=1.2, showticklabels=False, zeroline=False,
                showline=False, fixedrange=True),
    shapes=shapes,
    annotations=[dict(x=bp_t, y=89.4, xref="x2", yref="y2", text=bp_text, showarrow=False,
                      font=dict(size=20, color="white", family=FONT), bgcolor="#148a14",
                      bordercolor="#0d6e0d", borderwidth=1, width=70, height=26)],
)

fig.write_html("out.html", config={"displayModeBar": False})
